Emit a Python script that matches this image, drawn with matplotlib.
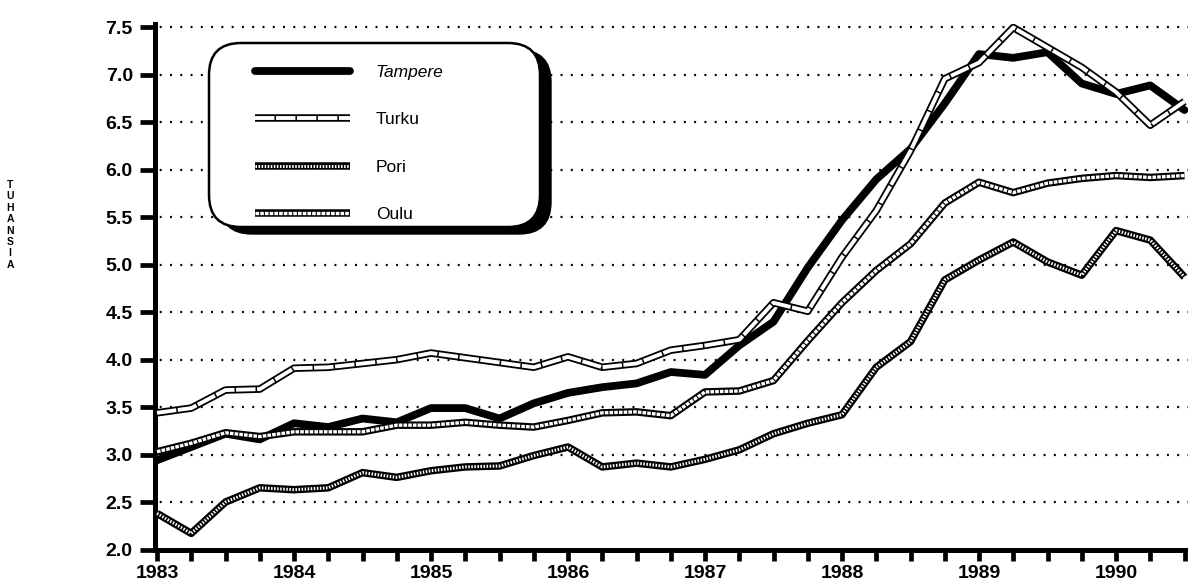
import matplotlib
matplotlib.use('Agg')
import matplotlib.pyplot as plt
from matplotlib.patches import FancyBboxPatch

plt.rcParams['font.family'] = ['Liberation Sans', 'DejaVu Sans']
plt.rcParams['lines.scale_dashes'] = False

# Quarterly periods (1983 Q1 ... 1990 Q3)
periods = [1983.0, 1983.25, 1983.5, 1983.75,
           1984.0, 1984.25, 1984.5, 1984.75,
           1985.0, 1985.25, 1985.5, 1985.75,
           1986.0, 1986.25, 1986.5, 1986.75,
           1987.0, 1987.25, 1987.5, 1987.75,
           1988.0, 1988.25, 1988.5, 1988.75,
           1989.0, 1989.25, 1989.5, 1989.75,
           1990.0, 1990.25, 1990.5]

tampere = [2.94, 3.08, 3.22, 3.16, 3.33, 3.29, 3.38, 3.34,
           3.49, 3.49, 3.38, 3.54, 3.65, 3.71, 3.75, 3.87,
           3.84, 4.15, 4.40, 4.97, 5.47, 5.90, 6.22, 6.70,
           7.22, 7.18, 7.24, 6.91, 6.80, 6.89, 6.63]
turku = [3.44, 3.49, 3.68, 3.69, 3.91, 3.92, 3.96, 4.00,
         4.07, 4.02, 3.97, 3.92, 4.03, 3.92, 3.96, 4.10,
         4.15, 4.21, 4.60, 4.51, 5.08, 5.57, 6.20, 6.96,
         7.13, 7.50, 7.29, 7.08, 6.82, 6.47, 6.72]
pori = [2.38, 2.17, 2.50, 2.65, 2.63, 2.65, 2.81, 2.76,
        2.83, 2.87, 2.88, 2.99, 3.08, 2.87, 2.91, 2.87,
        2.95, 3.05, 3.22, 3.33, 3.42, 3.92, 4.19, 4.84,
        5.05, 5.24, 5.03, 4.89, 5.36, 5.26, 4.87]
oulu = [3.03, 3.12, 3.23, 3.19, 3.24, 3.24, 3.24, 3.31,
        3.31, 3.34, 3.31, 3.29, 3.36, 3.44, 3.45, 3.41,
        3.66, 3.67, 3.78, 4.20, 4.60, 4.94, 5.22, 5.65,
        5.87, 5.76, 5.86, 5.91, 5.94, 5.92, 5.94]

series_names = ['Tampere', 'Turku', 'Pori', 'Oulu']
year_ticks = [1983, 1984, 1985, 1986, 1987, 1988, 1989, 1990]
y_ticks = [2.0, 2.5, 3.0, 3.5, 4.0, 4.5, 5.0, 5.5, 6.0, 6.5, 7.0, 7.5]
axis_letters = ['T', 'U', 'H', 'A', 'N', 'S', 'I', 'A']

W, H = 11.88, 5.84
fig = plt.figure(figsize=(W, H), dpi=100)
left_px, right_px, top_px, bot_px = 155, 1188, 24, 549.5
ax = fig.add_axes([left_px / 1188, 1 - bot_px / 584,
                   (right_px - left_px) / 1188, (bot_px - top_px) / 584])

ppy = 137.0
x0 = 1983 - 2 / ppy
x1 = x0 + (right_px - left_px) / ppy
ax.set_xlim(x0, x1)
ax.set_ylim(2.0, 7.5 + 3.5 / 95)

# grid
for v in y_ticks[1:]:
    ax.axhline(v, color='black', lw=1.6, linestyle=(4, (1.4, 6.0)),
               dash_capstyle='butt', zorder=1)


def double_line(x, y, inner_lw, dashes, z):
    outer, = ax.plot(x, y, color='black', lw=5.4, solid_joinstyle='round',
                     solid_capstyle='butt', zorder=z)
    inner, = ax.plot(x, y, color='white', lw=inner_lw, linestyle=(0, dashes),
                     dash_joinstyle='round', dash_capstyle='butt', zorder=z + 0.1)
    return (outer, inner)


h_tam, = ax.plot(periods, tampere, color='black', lw=5.6,
                 solid_joinstyle='round', solid_capstyle='round', zorder=3)
h_pori = double_line(periods, pori, 2.2, (1.1, 1.1), 4)
h_oulu = double_line(periods, oulu, 2.4, (2.6, 0.8), 5)
h_turku = double_line(periods, turku, 2.8, (14, 1.1), 6)

for s in ['top', 'right']:
    ax.spines[s].set_visible(False)
ax.spines['left'].set_linewidth(3.6)
ax.spines['bottom'].set_linewidth(3.6)
ax.spines['left'].set_capstyle('projecting')

ax.set_yticks(y_ticks)
ax.set_yticklabels([f'{v:.1f}' for v in y_ticks], fontsize=14, fontweight='bold')
ax.set_xticks(year_ticks)
ax.set_xticklabels([str(y) for y in year_ticks], fontsize=14, fontweight='bold')
ax.set_xticks(periods, minor=True)
ax.tick_params(axis='y', which='major', direction='out', length=11, width=3.4, pad=5)
ax.tick_params(axis='x', which='both', direction='out', length=8, width=3.4, pad=3)

# vertical stacked axis title
for i, ch in enumerate(axis_letters):
    fig.text(10 / 1188, 1 - (185 + i * 11.4) / 584, ch, fontsize=7.5,
             fontweight='bold', ha='center', va='center')

# legend box with shadow (inches)
bx, by, bw, bh = 2.09, H - 2.27, 3.31, 1.84
shadow = FancyBboxPatch((bx + 0.11, by - 0.07), bw, bh,
                        boxstyle='round,pad=0,rounding_size=0.32',
                        transform=fig.dpi_scale_trans, fc='black', ec='black',
                        lw=1, zorder=2)
box = FancyBboxPatch((bx, by), bw, bh, boxstyle='round,pad=0,rounding_size=0.32',
                     transform=fig.dpi_scale_trans, fc='white', ec='black',
                     lw=1.8, zorder=3)
fig.add_artist(shadow)
fig.add_artist(box)

leg = fig.legend([h_tam, h_turku, h_pori, h_oulu], series_names,
                 loc='upper left', bbox_to_anchor=(2.55, H - 0.65),
                 bbox_transform=fig.dpi_scale_trans, frameon=False,
                 borderpad=0, borderaxespad=0, handlelength=5.5,
                 handletextpad=1.45, labelspacing=1.85, fontsize=12.5)
leg.set_zorder(4)
leg.get_texts()[0].set_fontstyle('italic')

fig.savefig('out.png', dpi=100)
